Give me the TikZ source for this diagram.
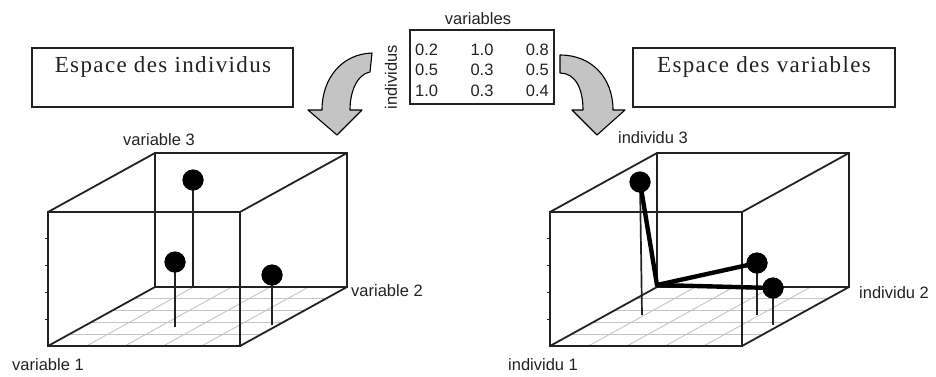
\documentclass[tikz,border=0pt]{standalone}
\usepackage{fontspec}
\setmainfont{Liberation Serif}
\newfontfamily\labelfont{Liberation Sans}
\newfontfamily\titlefont[LetterSpace=6]{Liberation Serif}

\definecolor{edgecol}{HTML}{222222}
\definecolor{gridcol}{HTML}{C4C4C4}
\definecolor{arrowfill}{HTML}{C4C4C4}

\tikzset{
  edge/.style={draw=edgecol, line width=1.8pt},
  gridline/.style={draw=gridcol, line width=0.9pt},
  stem/.style={draw=edgecol, line width=1.7pt},
  ball/.style={circle, fill=black, inner sep=0pt, minimum size=21pt},
  vecline/.style={draw=black, line width=4.4pt, line cap=round, line join=round},
  axislabel/.style={font=\labelfont\fontsize{16.5}{18}\selectfont, text=edgecol, inner sep=0pt},
  numtxt/.style={font=\labelfont\fontsize{16.5}{18}\selectfont, text=edgecol, inner sep=0pt},
  titlebox/.style={draw=edgecol, line width=1.8pt},
  titletext/.style={font=\titlefont\fontsize{23}{26}\selectfont, text=edgecol, inner sep=0pt},
  bigarrow/.style={fill=arrowfill, draw=black, line width=1.1pt, line join=round},
  % wire-frame box with a floor grid; origin at the front top left corner
  cubeframe/.pic={
    \foreach \t in {1,...,4} {
      \draw[gridline] ({\t*21.4},{134-\t*11.8}) -- ({192+\t*21.4},{134-\t*11.8});
      \draw[gridline] ({\t*38.4},134) -- ({107+\t*38.4},75);
    }
    \draw[edge] (107,-59) -- (299,-59) -- (299,75) -- (107,75) -- cycle;
    \draw[edge] (0,0) -- (192,0) -- (192,134) -- (0,134) -- cycle;
    \draw[edge] (0,0) -- (107,-59) (192,0) -- (299,-59)
                (0,134) -- (107,75) (192,134) -- (299,75);
    \foreach \t in {1,...,4}
      \draw[edge, line width=1pt] (-3,{\t*26.8}) -- (0,{\t*26.8});
  }
}

\begin{document}
\begin{tikzpicture}[x=1pt,y=-1pt]
\useasboundingbox (0,0) rectangle (936,376);

% ---- data table ----
\draw[draw=edgecol, line width=1.8pt] (410,30) rectangle (554,104);
\node[numtxt] (varhead) at (478,19) {variables};
\node[numtxt, rotate=90] (indhead) at (391,77) {individus};
\foreach \r/\y/\a/\b/\c in {1/50/0.2/1.0/0.8, 2/70/0.5/0.3/0.5, 3/91/1.0/0.3/0.4} {
  \node[numtxt, anchor=west] (m\r a) at (415,\y) {\a};
  \node[numtxt] (m\r b) at (482,\y) {\b};
  \node[numtxt, anchor=east] (m\r c) at (549,\y) {\c};
}

% ---- titles ----
\draw[titlebox] (32,48) rectangle (293,107);
\node[titletext] (ttl) at (163,67) {Espace des individus};
\draw[titlebox] (633,48) rectangle (895,107);
\node[titletext] (ttr) at (764,67) {Espace des variables};

% ---- curved block arrows ----
\draw[bigarrow] (372,53) -- (370,72)
  .. controls (358,74) and (350,90) .. (350,110)
  -- (362,110) -- (337,135) -- (308,110) -- (322,110)
  .. controls (322,78) and (342,54) .. (372,53) -- cycle;
\draw[bigarrow] (560,55)
  .. controls (592,55) and (613,78) .. (613,110)
  -- (625,110) -- (597,135) -- (572,110) -- (583,110)
  .. controls (583,88) and (575,73) .. (560,73) -- cycle;

% ---- space of individuals ----
\pic at (48,212) {cubeframe};
\node[axislabel] (v3) at (159,140) {variable 3};
\node[axislabel, anchor=west] (v2) at (351,291) {variable 2};
\node[axislabel, anchor=west] (v1) at (12,365) {variable 1};

\coordinate (afoot) at (193,287);
\coordinate (bfoot) at (175,327);
\coordinate (cfoot) at (272,325);
\node[ball] (ia) at (193,180) {};
\node[ball] (ib) at (175,262) {};
\node[ball] (ic) at (272,275) {};
\draw[stem] (ia.center) -- (afoot);
\draw[stem] (ib.center) -- (bfoot);
\draw[stem] (ic.center) -- (cfoot);
\node[ball] at (ia) {};
\node[ball] at (ib) {};
\node[ball] at (ic) {};

% ---- space of variables ----
\pic at (550,212) {cubeframe};
\node[axislabel] (i3) at (653,138) {individu 3};
\node[axislabel, anchor=west] (i2) at (859,293) {individu 2};
\node[axislabel, anchor=west] (i1) at (508,365) {individu 1};

\coordinate (orig) at (657,285);
\coordinate (p3foot) at (642,315);
\coordinate (p1foot) at (757,315);
\coordinate (p2foot) at (773,325);
\node[ball] (p3) at (640,182) {};
\node[ball] (p1) at (757,263) {};
\node[ball] (p2) at (773,288) {};
\draw[stem] (p3.center) -- (p3foot);
\draw[stem] (p1.center) -- (p1foot);
\draw[stem] (p2.center) -- (p2foot);
\draw[vecline] (p3.center) -- (orig) -- (p1.center);
\draw[vecline] (orig) -- (p2.center);
\node[ball] at (p3) {};
\node[ball] at (p1) {};
\node[ball] at (p2) {};
\end{tikzpicture}
\end{document}
